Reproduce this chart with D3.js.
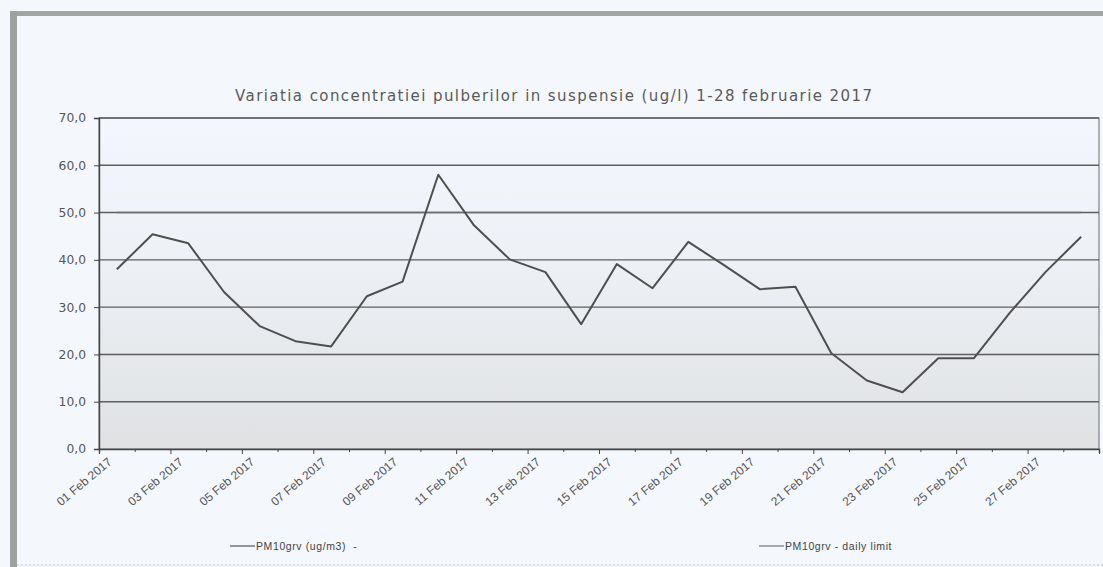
<!DOCTYPE html>
<html>
<head>
<meta charset="utf-8">
<script src="https://cdn.jsdelivr.net/npm/d3@7/dist/d3.min.js"></script>
<style>
  html, body { margin: 0; padding: 0; background: #f4f7fc; }
  svg { display: block; }
</style>
</head>
<body>
<div id="chart"></div>
<script>
// categories (x axis), one per day
let days = ["01 Feb 2017", "02 Feb 2017", "03 Feb 2017", "04 Feb 2017", "05 Feb 2017", "06 Feb 2017", "07 Feb 2017",
            "08 Feb 2017", "09 Feb 2017", "10 Feb 2017", "11 Feb 2017", "12 Feb 2017", "13 Feb 2017", "14 Feb 2017",
            "15 Feb 2017", "16 Feb 2017", "17 Feb 2017", "18 Feb 2017", "19 Feb 2017", "20 Feb 2017", "21 Feb 2017",
            "22 Feb 2017", "23 Feb 2017", "24 Feb 2017", "25 Feb 2017", "26 Feb 2017", "27 Feb 2017", "28 Feb 2017"];

// PM10grv (ug/m3)
let pm10 = [38.0, 45.4, 43.5, 33.2, 26.0, 22.8, 21.7, 32.3, 35.4, 58.0, 47.3, 40.1, 37.4, 26.4,
            39.1, 34.0, 43.8, 38.9, 33.8, 34.3, 20.3, 14.5, 12.0, 19.2, 19.2, 28.8, 37.4, 44.9];

// PM10grv - daily limit
let limit = [50, 50, 50, 50, 50, 50, 50, 50, 50, 50, 50, 50, 50, 50,
             50, 50, 50, 50, 50, 50, 50, 50, 50, 50, 50, 50, 50, 50];

let yTicks = [0, 10, 20, 30, 40, 50, 60, 70];
let seriesNames = ["PM10grv (ug/m3)  -", "PM10grv - daily limit"];
let title = "Variatia concentratiei pulberilor in suspensie (ug/l) 1-28 februarie 2017";

let W = 1103, H = 567;
let m = {top: 118, right: 4, bottom: 118, left: 99};
let w = 1099 - m.left;
let h = 449 - m.top;

let svg = d3.select("#chart")
    .append("svg")
    .attr("width", W)
    .attr("height", H);

let defs = svg.append("defs");
let grad = defs.append("linearGradient")
    .attr("id", "plotbg")
    .attr("x1", 0).attr("y1", 0).attr("x2", 0).attr("y2", 1);
grad.append("stop").attr("offset", "0%").attr("stop-color", "#f3f6fc");
grad.append("stop").attr("offset", "40%").attr("stop-color", "#eef1f6");
grad.append("stop").attr("offset", "100%").attr("stop-color", "#dfe1e3");

// scanned page frame
svg.append("rect").attr("x", 0).attr("y", 0).attr("width", W).attr("height", H).attr("fill", "#f4f7fc");
svg.append("rect").attr("x", 10).attr("y", 11).attr("width", W - 10).attr("height", 5).attr("fill", "#a3a5a2");
svg.append("rect").attr("x", 10).attr("y", 11).attr("width", 7).attr("height", H - 11).attr("fill", "#9fa19e");
svg.append("line").attr("x1", 17).attr("x2", W).attr("y1", 565).attr("y2", 565)
    .attr("stroke", "#d3d6da").attr("stroke-width", 1.5).attr("stroke-dasharray", "2,2");

let g = svg.append("g")
    .attr("transform", "translate(" + m.left + "," + m.top + ")");

let x = d3.scaleBand()
    .domain(days)
    .range([0, w])
    .padding(0);

let xEdge = d3.scaleLinear()
    .domain([0, days.length])
    .range([0, w]);

let y = d3.scaleLinear()
    .domain([0, 70])
    .range([h, 0]);

let locale = d3.formatLocale({decimal: ",", thousands: ".", grouping: [3], currency: ["", ""]});
let fmt = locale.format(".1f");

g.append("rect")
    .attr("width", w)
    .attr("height", h)
    .attr("fill", "url(#plotbg)")
    .attr("stroke", "#6a6a6a")
    .attr("stroke-width", 1);

// gridlines
g.append("g")
    .selectAll("line")
    .data(yTicks.slice(1))
    .enter()
    .append("line")
    .attr("x1", 0)
    .attr("x2", w)
    .attr("y1", (d) => y(d))
    .attr("y2", (d) => y(d))
    .attr("stroke", "#5e5e5e")
    .attr("stroke-width", 1.4);

// y axis
let yAxis = g.append("g")
    .call(d3.axisLeft(y).tickValues(yTicks).tickSize(5).tickPadding(8).tickFormat(fmt));
yAxis.select(".domain").attr("stroke", "#444").attr("stroke-width", 1.4);
yAxis.selectAll(".tick line").attr("stroke", "#444");
yAxis.selectAll("text")
    .style("font-family", "DejaVu Sans, Verdana, sans-serif")
    .style("font-size", "12.3px")
    .attr("fill", "#555");

// x axis ticks at category edges
let xAxis = g.append("g")
    .attr("transform", "translate(0," + h + ")")
    .call(d3.axisBottom(xEdge).tickValues(d3.range(days.length + 1)).tickSize(4).tickFormat(""));
xAxis.select(".domain").attr("stroke", "#444").attr("stroke-width", 1.4);
xAxis.selectAll(".tick line")
    .attr("stroke", "#444")
    .attr("y2", (d) => d % 2 === 0 ? 5 : 3);

// x labels, every second day
g.append("g")
    .selectAll("text")
    .data(days.filter((d, i) => i % 2 === 0))
    .enter()
    .append("text")
    .attr("transform", (d) => "translate(" + (x(d) + x.bandwidth() / 2 - 7) + "," + (h + 11) + ") rotate(-40)")
    .attr("text-anchor", "end")
    .attr("dy", "0.35em")
    .style("font-family", "Liberation Sans, Arial, sans-serif")
    .style("font-size", "12px")
    .attr("fill", "#555")
    .text((d) => d);

let line = d3.line()
    .x((d, i) => x(days[i]) + x.bandwidth() / 2)
    .y((d) => y(d));

g.append("path")
    .datum(limit)
    .attr("d", line)
    .attr("fill", "none")
    .attr("stroke", "#6d6d6d")
    .attr("stroke-width", 1.4);

g.append("path")
    .datum(pm10)
    .attr("d", line)
    .attr("fill", "none")
    .attr("stroke", "#4f4f4f")
    .attr("stroke-width", 2)
    .attr("stroke-linejoin", "round");

// title
svg.append("text")
    .attr("x", 553.5)
    .attr("y", 101)
    .attr("text-anchor", "middle")
    .attr("textLength", 637)
    .attr("lengthAdjust", "spacing")
    .style("font-family", "DejaVu Sans, Verdana, sans-serif")
    .style("font-size", "15px")
    .attr("fill", "#5a5a5a")
    .text(title);

// legend
let legendX = [230, 759];
let legend = svg.append("g")
    .selectAll("g")
    .data(seriesNames)
    .enter()
    .append("g")
    .attr("transform", (d, i) => "translate(" + legendX[i] + ",546)");
legend.append("line")
    .attr("x1", 0).attr("x2", 25)
    .attr("y1", 0).attr("y2", 0)
    .attr("stroke", (d, i) => i === 0 ? "#555" : "#777")
    .attr("stroke-width", 1.2);
legend.append("text")
    .attr("x", 26)
    .attr("dy", "0.35em")
    .style("font-family", "Liberation Sans, Arial, sans-serif")
    .style("font-size", "10.5px")
    .style("letter-spacing", "0.6px")
    .attr("fill", "#444")
    .attr("xml:space", "preserve")
    .text((d) => d);
</script>
</body>
</html>
